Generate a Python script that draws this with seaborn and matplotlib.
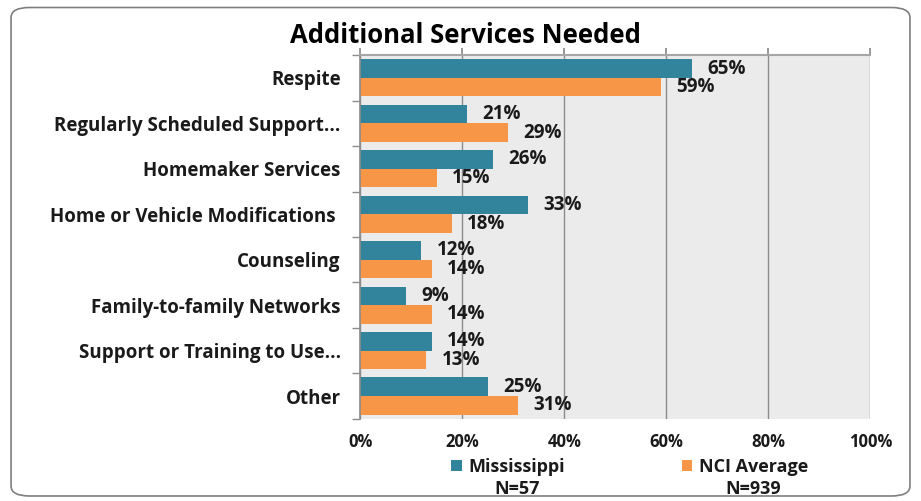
import matplotlib
matplotlib.use("Agg")
import matplotlib.pyplot as plt
import seaborn as sns
import pandas as pd
import numpy as np
from matplotlib.patches import FancyBboxPatch
from matplotlib.ticker import FuncFormatter, FixedLocator

categories = ["Respite", "Regularly Scheduled Support...", "Homemaker Services",
              "Home or Vehicle Modifications ", "Counseling", "Family-to-family Networks",
              "Support or Training to Use...", "Other"]
mississippi = [65, 21, 26, 33, 12, 9, 14, 25]
nci_average = [59, 29, 15, 18, 14, 14, 13, 31]
series_names = ["Mississippi", "NCI Average"]
series_n = ["N=57", "N=939"]
colors = ["#31849B", "#F79646"]

df = pd.DataFrame({
    "cat": categories * 2,
    "val": mississippi + nci_average,
    "series": [series_names[0]] * len(categories) + [series_names[1]] * len(categories),
})

sns.set_theme(style="white")
plt.rcParams["font.family"] = ["Open Sans", "DejaVu Sans"]

fig = plt.figure(figsize=(9.21, 5.01), dpi=100)
ax = fig.add_axes([0.391, 0.164, 0.554, 0.726])

sns.barplot(data=df, y="cat", x="val", hue="series", orient="h",
            palette=colors, width=0.82, ax=ax, saturation=1, legend=True,
            edgecolor="none", linewidth=0)

ax.set_facecolor("#EBEBEB")
ax.set_xlim(0, 100)
ax.set_ylim(len(categories) - 0.5, -0.5)
ax.set_xticks([0, 20, 40, 60, 80, 100])
ax.xaxis.set_major_formatter(FuncFormatter(lambda v, p: f"{int(v)}%"))
ax.grid(axis="x", color="#8C8C8C", linewidth=1)
ax.set_axisbelow(True)
ax.set_xlabel("")
ax.set_ylabel("")
ax.spines["right"].set_visible(False)
ax.spines["bottom"].set_visible(False)
ax.spines["left"].set_color("#8C8C8C")
ax.spines["top"].set_color("#A6A6A6")
ax.spines["top"].set_linewidth(1.5)
ax.tick_params(axis="x", top=True, bottom=False, labeltop=False, labelbottom=True,
               direction="out", length=5, color="#8C8C8C", pad=5, labelsize=12)
ax.tick_params(axis="y", which="major", length=0, pad=14, labelsize=13.5)
ax.yaxis.set_minor_locator(FixedLocator(np.arange(-0.5, len(categories), 1.0)))
ax.tick_params(axis="y", which="minor", left=True, length=6, color="#8C8C8C", width=1)
for lbl in ax.get_xticklabels() + ax.get_yticklabels():
    lbl.set_fontweight("bold")
    lbl.set_color("#1a1a1a")

for cont in ax.containers:
    ax.bar_label(cont, labels=[f"{int(v)}%" for v in cont.datavalues], padding=11,
                 fontsize=13.5, fontweight="bold", color="#1a1a1a")

leg = ax.legend(loc="upper left", bbox_to_anchor=(0.179, -0.107), ncol=2, frameon=False,
                fontsize=13, handlelength=0.6, handleheight=0.6, columnspacing=6.45,
                handletextpad=0.35, borderaxespad=0, borderpad=0)
for t in leg.get_texts():
    t.set_fontweight("bold")
    t.set_color("#1a1a1a")

fig.canvas.draw()
renderer = fig.canvas.get_renderer()
inv = fig.transFigure.inverted()
for t, n in zip(leg.get_texts(), series_n):
    bb = t.get_window_extent(renderer)
    (x0, y0), (x1, y1) = inv.transform([[bb.x0, bb.y0], [bb.x1, bb.y1]])
    fig.text((x0 + x1) / 2, y0 - 0.008, n, ha="center", va="top",
             fontsize=13, fontweight="bold", color="#1a1a1a")

fig.text(0.505, 0.93, "Additional Services Needed", ha="center", va="center",
         fontsize=18.5, fontweight="bold", color="black")

border = FancyBboxPatch((0.012, 0.01), 0.976, 0.975, boxstyle="round,pad=0,rounding_size=0.02",
                        transform=fig.transFigure, fill=False, edgecolor="#7F7F7F",
                        linewidth=1.2)
fig.patches.append(border)

fig.savefig("out.png", dpi=100)
